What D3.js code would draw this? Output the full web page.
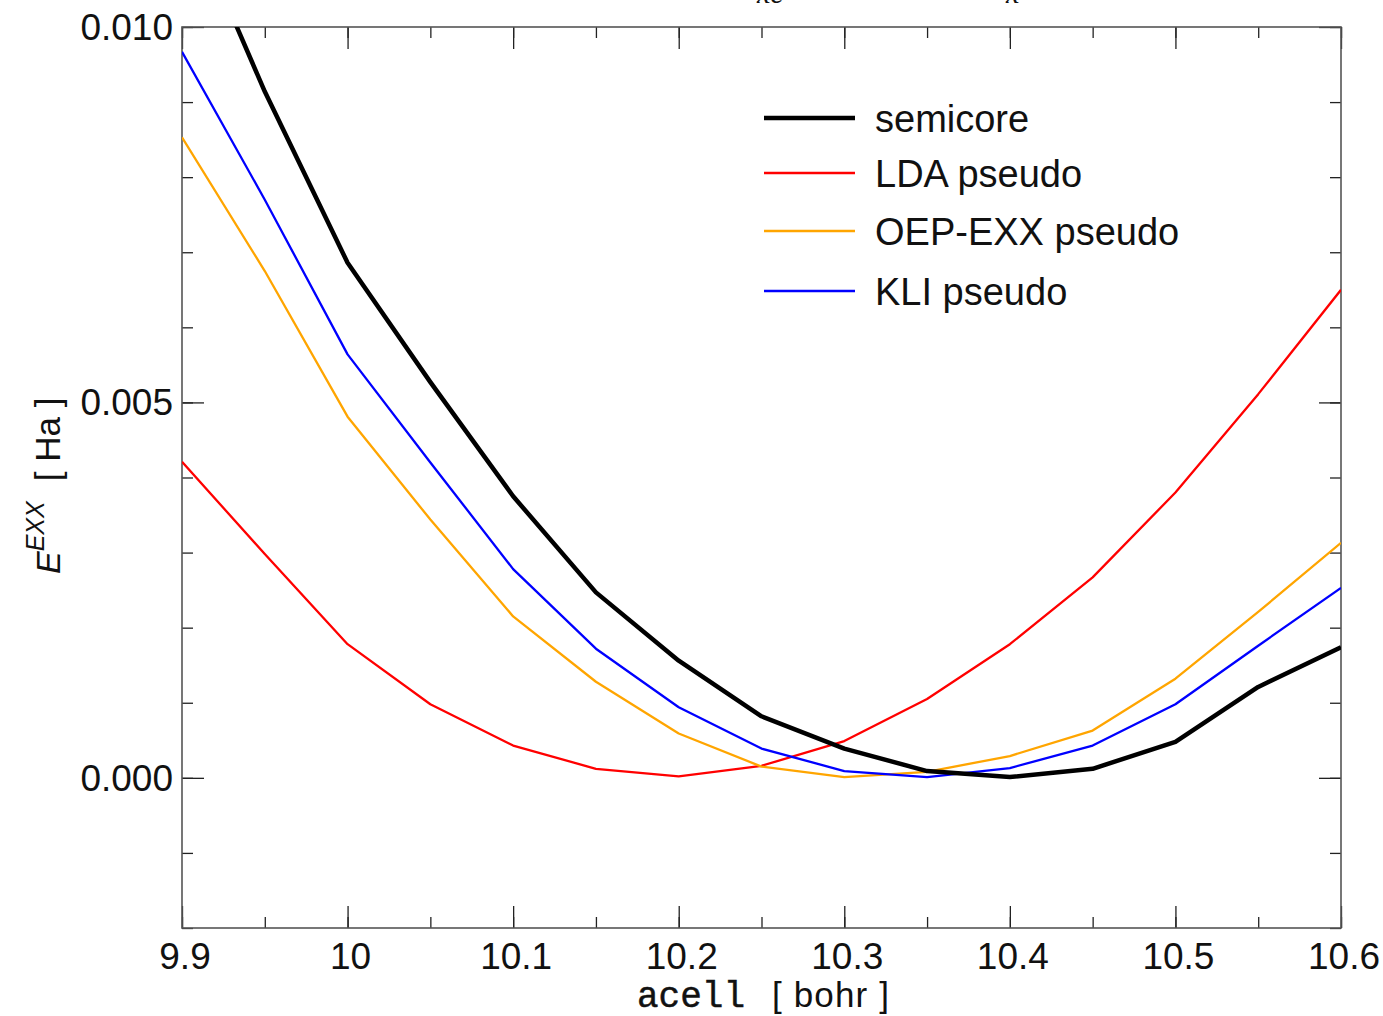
<!DOCTYPE html>
<html>
<head>
<meta charset="utf-8">
<script src="https://cdn.jsdelivr.net/npm/d3@7"></script>
<style>
  html, body { margin: 0; padding: 0; background: #fff; }
  svg { display: block; }
  text { font-family: "Liberation Sans", Arial, sans-serif; fill: #111; }
</style>
</head>
<body>
<script>
// Lattice constant grid (bohr)
const acell = [9.90, 9.95, 10.00, 10.05, 10.10, 10.15, 10.20, 10.25, 10.30, 10.35, 10.40, 10.45, 10.50, 10.55, 10.60];

// Total energy relative to minimum (Ha)
const semicore = [0.01169, 0.00914, 0.00686, 0.00527, 0.00375, 0.00247, 0.00156, 0.00082, 0.00039, 0.00009, 0.00001, 0.00012, 0.00048, 0.00121, 0.00174];
const ldaPseudo = [0.00421, 0.00298, 0.00178, 0.00098, 0.00043, 0.00012, 0.00002, 0.00016, 0.00049, 0.00105, 0.00178, 0.00267, 0.00380, 0.00511, 0.00650];
const oepPseudo = [0.00853, 0.00675, 0.00481, 0.00344, 0.00215, 0.00128, 0.00059, 0.00015, 0.00001, 0.00008, 0.00029, 0.00063, 0.00132, 0.00221, 0.00313];
const kliPseudo = [0.00967, 0.00770, 0.00564, 0.00420, 0.00278, 0.00172, 0.00094, 0.00039, 0.00009, 0.00001, 0.00013, 0.00043, 0.00098, 0.00176, 0.00253];

const seriesNames = ["semicore", "LDA pseudo", "OEP-EXX pseudo", "KLI pseudo"];
const seriesColors = ["#000000", "#ff0000", "#ffa500", "#0000ff"];
const seriesWidths = [4.5, 2.3, 2.3, 2.3];

const xTickValues = [9.9, 10.0, 10.1, 10.2, 10.3, 10.4, 10.5, 10.6];
const xTickLabels = ["9.9", "10", "10.1", "10.2", "10.3", "10.4", "10.5", "10.6"];
const yTickValues = [0.000, 0.005, 0.010];
const yTickLabels = ["0.000", "0.005", "0.010"];

const W = 1383, H = 1016;
const plotL = 182, plotR = 1341, plotT = 27, plotB = 928;

const svg = d3.select("body").append("svg").attr("width", W).attr("height", H);

const x = d3.scaleLinear().domain([9.9, 10.6]).range([plotL, plotR]);
const y = d3.scaleLinear().domain([-0.002, 0.010]).range([plotB, plotT]);

// Clip the curves to the plotting frame
svg.append("defs").append("clipPath").attr("id", "plotclip")
  .append("rect").attr("x", plotL).attr("y", plotT).attr("width", plotR - plotL).attr("height", plotB - plotT);

// Partly visible heading fragments above the frame
svg.append("text").attr("x", 757).attr("y", 3)
  .style("font-family", "'Liberation Serif', serif").style("font-style", "italic")
  .style("font-size", "30px").text("xc");
svg.append("text").attr("x", 1006).attr("y", 3)
  .style("font-family", "'Liberation Serif', serif").style("font-style", "italic")
  .style("font-size", "30px").text("x");

// Axes with major and minor ticks on all four sides
const minorX = d3.range(0, 15).map(i => +(9.9 + i * 0.05).toFixed(2));
const minorY = d3.range(0, 13).map(i => +(-0.002 + i * 0.001).toFixed(3));

function styleAxis(g) {
  g.select(".domain").remove();
  g.selectAll(".tick line").attr("stroke", "#222").attr("stroke-width", 1.3);
}

// bottom
svg.append("g").attr("transform", `translate(0,${plotB})`)
  .call(d3.axisTop(x).tickValues(minorX).tickSize(11).tickFormat(""))
  .call(styleAxis);
svg.append("g").attr("transform", `translate(0,${plotB})`)
  .call(d3.axisTop(x).tickValues(xTickValues).tickSize(22).tickFormat(""))
  .call(styleAxis);
// top
svg.append("g").attr("transform", `translate(0,${plotT})`)
  .call(d3.axisBottom(x).tickValues(minorX).tickSize(11).tickFormat(""))
  .call(styleAxis);
svg.append("g").attr("transform", `translate(0,${plotT})`)
  .call(d3.axisBottom(x).tickValues(xTickValues).tickSize(22).tickFormat(""))
  .call(styleAxis);
// left
svg.append("g").attr("transform", `translate(${plotL},0)`)
  .call(d3.axisRight(y).tickValues(minorY).tickSize(11).tickFormat(""))
  .call(styleAxis);
svg.append("g").attr("transform", `translate(${plotL},0)`)
  .call(d3.axisRight(y).tickValues(yTickValues).tickSize(22).tickFormat(""))
  .call(styleAxis);
// right
svg.append("g").attr("transform", `translate(${plotR},0)`)
  .call(d3.axisLeft(y).tickValues(minorY).tickSize(11).tickFormat(""))
  .call(styleAxis);
svg.append("g").attr("transform", `translate(${plotR},0)`)
  .call(d3.axisLeft(y).tickValues(yTickValues).tickSize(22).tickFormat(""))
  .call(styleAxis);

// Frame
svg.append("rect").attr("x", plotL).attr("y", plotT).attr("width", plotR - plotL).attr("height", plotB - plotT)
  .attr("fill", "none").attr("stroke", "#555").attr("stroke-width", 1.6);

// Tick labels
svg.append("g").selectAll("text").data(xTickValues).join("text")
  .attr("x", d => x(d) + 3).attr("y", 969)
  .attr("text-anchor", "middle").style("font-size", "37px")
  .text((d, i) => xTickLabels[i]);

svg.append("g").selectAll("text").data(yTickValues).join("text")
  .attr("x", 173).attr("y", d => y(d) + 13)
  .attr("text-anchor", "end").style("font-size", "37px")
  .text((d, i) => yTickLabels[i]);

// Axis titles
svg.append("text").attr("x", 637).attr("y", 1007)
  .style("font-family", "'Liberation Mono', 'Courier New', monospace")
  .style("font-size", "36px").attr("stroke", "#111").attr("stroke-width", 0.5)
  .text("acell");
svg.append("text").attr("x", 772).attr("y", 1007).style("font-size", "35px")
  .attr("textLength", 117).attr("lengthAdjust", "spacing")
  .text("[ bohr ]");

const yt = svg.append("text").attr("transform", "translate(60,574) rotate(-90)").style("font-size", "34px");
yt.append("tspan").style("font-style", "italic").text("E");
yt.append("tspan").style("font-style", "italic").style("font-size", "25px").attr("dy", -16).text("EXX");
yt.append("tspan").attr("dy", 16).attr("dx", 20).style("font-size", "35px").text("[ Ha ]");

// Curves
const allSeries = [semicore, ldaPseudo, oepPseudo, kliPseudo];
const line = d3.line().x((d, i) => x(acell[i])).y(d => y(d));
const drawOrder = [1, 2, 3, 0];
svg.append("g").attr("clip-path", "url(#plotclip)")
  .selectAll("path").data(drawOrder).join("path")
  .attr("d", k => line(allSeries[k]))
  .attr("fill", "none")
  .attr("stroke", k => seriesColors[k])
  .attr("stroke-width", k => seriesWidths[k])
  .attr("stroke-linejoin", "round");

// Legend
const legendY = [118, 173, 231, 291];
const lg = svg.append("g");
seriesNames.forEach((name, i) => {
  lg.append("line").attr("x1", 764).attr("x2", 855).attr("y1", legendY[i]).attr("y2", legendY[i])
    .attr("stroke", seriesColors[i]).attr("stroke-width", seriesWidths[i]);
  lg.append("text").attr("x", 875).attr("y", legendY[i] + 14).style("font-size", "38px").text(name);
});
</script>
</body>
</html>
